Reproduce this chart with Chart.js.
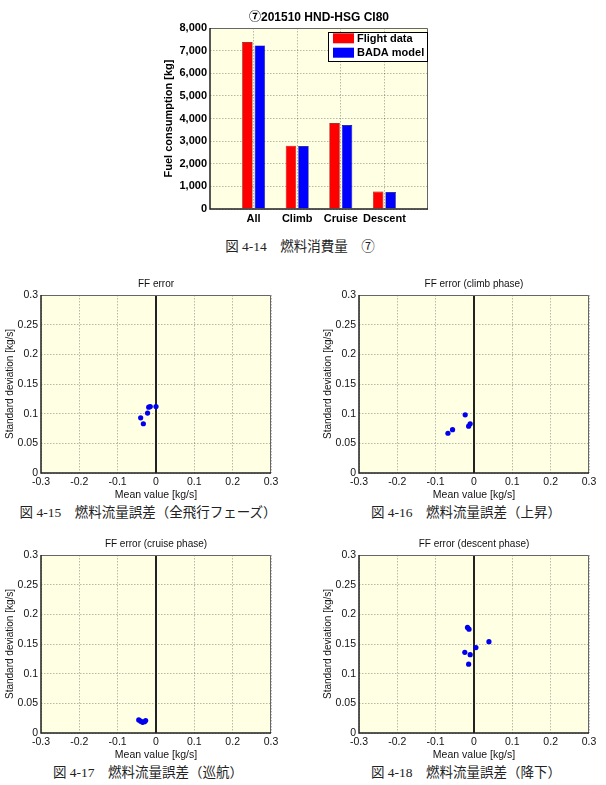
<!DOCTYPE html>
<html><head><meta charset="utf-8">
<script src="https://cdn.jsdelivr.net/npm/chart.js@4.4.0/dist/chart.umd.min.js"></script>
<style>
html,body{margin:0;padding:0;background:#fff;width:606px;height:785px;overflow:hidden;}
canvas{position:absolute;}
.cap{position:absolute;font-family:"Liberation Serif","Noto Sans CJK JP",serif;font-size:13.5px;line-height:16px;text-align:center;color:#222;white-space:nowrap;}
</style></head><body>
<canvas id="c0" width="300" height="235" style="left:150px;top:0px"></canvas>
<canvas id="c1" width="286" height="233" style="left:0px;top:270px"></canvas>
<canvas id="c2" width="286" height="233" style="left:318px;top:270px"></canvas>
<canvas id="c3" width="286" height="233" style="left:0px;top:530px"></canvas>
<canvas id="c4" width="286" height="233" style="left:318px;top:530px"></canvas>
<div class="cap" style="left:150px;top:239px;width:300px">図 4-14　燃料消費量　⑦</div>
<div class="cap" style="left:0px;top:505px;width:296px">図 4-15　燃料流量誤差（全飛行フェーズ）</div>
<div class="cap" style="left:318px;top:505px;width:296px">図 4-16　燃料流量誤差（上昇）</div>
<div class="cap" style="left:0px;top:765px;width:296px">図 4-17　燃料流量誤差（巡航）</div>
<div class="cap" style="left:318px;top:765px;width:296px">図 4-18　燃料流量誤差（降下）</div>
<script>
// ---- data ----
const categories = ['All', 'Climb', 'Cruise', 'Descent'];
const flightData = [7380, 2800, 3800, 770];
const badaModel = [7230, 2780, 3710, 750];
const barYTicks = [0, 1000, 2000, 3000, 4000, 5000, 6000, 7000, 8000];
const barYLabels = ['0', '1,000', '2,000', '3,000', '4,000', '5,000', '6,000', '7,000', '8,000'];

const allMean = [-0.040, -0.033, -0.022, -0.019, -0.015, 0.000];
const allStd = [0.093, 0.083, 0.101, 0.111, 0.112, 0.112];
const climbMean = [-0.068, -0.056, -0.023, -0.014, -0.010];
const climbStd = [0.067, 0.073, 0.098, 0.079, 0.083];
const cruiseMean = [-0.045, -0.040, -0.035, -0.030, -0.027];
const cruiseStd = [0.022, 0.020, 0.018, 0.019, 0.021];
const descentMean = [-0.017, -0.013, 0.039, 0.005, -0.024, -0.010, -0.014];
const descentStd = [0.178, 0.175, 0.154, 0.144, 0.136, 0.132, 0.116];

const sxTicks = [-0.3, -0.2, -0.1, 0, 0.1, 0.2, 0.3];
const sxLabels = ['-0.3', '-0.2', '-0.1', '0', '0.1', '0.2', '0.3'];
const syTicks = [0, 0.05, 0.1, 0.15, 0.2, 0.25, 0.3];
const syLabels = ['0', '0.05', '0.1', '0.15', '0.2', '0.25', '0.3'];
const zeroLineX = [0, 0];
const zeroLineY = [0, 0.3];

// ---- plugins ----
const frame = {
  id: 'frame',
  beforeDraw(chart) {
    const {ctx, chartArea: a} = chart;
    ctx.save();
    ctx.fillStyle = '#FFFFE4';
    ctx.fillRect(a.left, a.top, a.width, a.height);
    ctx.restore();
  },
  afterDatasetsDraw(chart) {
    const {ctx, chartArea: a} = chart;
    ctx.save();
    ctx.strokeStyle = '#666'; ctx.lineWidth = 1;
    ctx.beginPath();
    ctx.moveTo(a.left, a.top + 0.5); ctx.lineTo(a.right - 0.5, a.top + 0.5); ctx.lineTo(a.right - 0.5, a.bottom);
    ctx.stroke();
    ctx.strokeStyle = '#222'; ctx.lineWidth = 1.5;
    ctx.beginPath();
    ctx.moveTo(a.left, a.top); ctx.lineTo(a.left, a.bottom); ctx.lineTo(a.right, a.bottom);
    ctx.stroke();
    ctx.restore();
  }
};
const boxLegend = {
  id: 'boxLegend',
  afterDraw(chart, args, opts) {
    if (!opts || !opts.show) return;
    const {ctx, chartArea: a} = chart;
    const w = 99, h = 29, x = a.right - w - 1, y = a.top + 4;
    ctx.save();
    ctx.fillStyle = '#fff'; ctx.fillRect(x, y, w, h);
    ctx.strokeStyle = '#000'; ctx.lineWidth = 1; ctx.strokeRect(x + 0.5, y + 0.5, w, h);
    chart.data.datasets.forEach((ds, i) => {
      const yy = y + 1.3 + i * 14.4;
      ctx.fillStyle = ds.backgroundColor; ctx.fillRect(x + 5, yy, 21, 10);
      ctx.fillStyle = '#000'; ctx.font = 'bold 11px "Liberation Sans"'; ctx.textBaseline = 'middle'; ctx.textAlign = 'left';
      ctx.fillText(ds.label, x + 29, yy + 5.3);
    });
    ctx.restore();
  }
};

const gridOpts = {color: 'rgba(0,0,0,0.28)', lineWidth: 1, drawTicks: false, offset: false};
const borderOpts = {display: false, dash: [1.5, 1.5]};

// ---- bar chart ----
new Chart(document.getElementById('c0'), {
  type: 'bar',
  plugins: [frame, boxLegend],
  data: {
    datasets: [
      {label: 'Flight data', data: flightData.map((v, i) => ({x: i + 1, y: v})), backgroundColor: '#FF0000', borderColor: '#700', borderWidth: 0.6},
      {label: 'BADA model', data: badaModel.map((v, i) => ({x: i + 1, y: v})), backgroundColor: '#0000FF', borderColor: '#007', borderWidth: 0.6}
    ]
  },
  options: {
    responsive: false, animation: false, devicePixelRatio: 1,
    categoryPercentage: 0.573, barPercentage: 0.84,
    layout: {padding: {left: 0, right: 22, top: 0, bottom: 0}},
    plugins: {
      legend: {display: false}, tooltip: {enabled: false},
      boxLegend: {show: true},
      title: {display: true, text: '⑦201510 HND-HSG CI80', fullSize: false, color: '#000',
        font: {family: '"Liberation Sans","Noto Sans CJK JP"', size: 12, weight: 'bold', lineHeight: 1.2},
        padding: {top: 10, bottom: 3.6}}
    },
    scales: {
      x: {type: 'linear', min: 0, max: 5, offset: false, grid: gridOpts, border: borderOpts,
        afterBuildTicks: s => { s.ticks = categories.map((c, i) => ({value: i + 1})); },
        afterFit: s => { s.height = 26; },
        ticks: {autoSkip: false, maxRotation: 0, padding: 3, color: '#000',
          font: {family: '"Liberation Sans"', size: 11, weight: 'bold'},
          callback: (v, i) => categories[i]}
      },
      y: {min: 0, max: 8000, grid: gridOpts, border: borderOpts,
        afterBuildTicks: s => { s.ticks = barYTicks.map(v => ({value: v})); },
        afterFit: s => { s.width = 60; },
        ticks: {padding: 3, color: '#000', font: {family: '"Liberation Sans"', size: 11, weight: 'bold'},
          callback: (v, i) => barYLabels[i]},
        title: {display: true, text: 'Fuel consumption [kg]', color: '#000',
          font: {family: '"Liberation Sans"', size: 11, weight: 'bold', lineHeight: 1.2}, padding: {top: 12, bottom: 0}}
      }
    }
  }
});

// ---- scatter charts ----
function scatter(id, title, mean, std) {
  new Chart(document.getElementById(id), {
    type: 'scatter',
    plugins: [frame],
    data: {
      datasets: [
        {label: 'points', data: mean.map((m, i) => ({x: m, y: std[i]})), backgroundColor: '#0000EE', borderWidth: 0, pointRadius: 2.6, order: 0},
        {label: 'zero', data: zeroLineX.map((x, i) => ({x: x, y: zeroLineY[i]})), showLine: true, borderColor: '#222', borderWidth: 2, pointRadius: 0, order: 1}
      ]
    },
    options: {
      responsive: false, animation: false, devicePixelRatio: 1,
      layout: {padding: {left: 0, right: 15, top: 0, bottom: 0}},
      plugins: {
        legend: {display: false}, tooltip: {enabled: false},
        title: {display: true, text: title, fullSize: false, color: '#111',
          font: {family: '"Liberation Sans"', size: 10, weight: 'normal', lineHeight: 1.2},
          padding: {top: 8, bottom: 5}}
      },
      scales: {
        x: {type: 'linear', min: -0.3, max: 0.3, grid: gridOpts, border: borderOpts,
          afterBuildTicks: s => { s.ticks = sxTicks.map(v => ({value: v})); },
          afterFit: s => { s.height = 30; },
          ticks: {autoSkip: false, maxRotation: 0, padding: 3, color: '#111',
            font: {family: '"Liberation Sans"', size: 10.5}, callback: (v, i) => sxLabels[i]},
          title: {display: true, text: 'Mean value [kg/s]', color: '#111',
            font: {family: '"Liberation Sans"', size: 10.5, lineHeight: 1.2}, padding: {top: 0, bottom: 2}}
        },
        y: {type: 'linear', min: 0, max: 0.3, grid: gridOpts, border: borderOpts,
          afterBuildTicks: s => { s.ticks = syTicks.map(v => ({value: v})); },
          afterFit: s => { s.width = 41; },
          ticks: {autoSkip: false, padding: 3, color: '#111',
            font: {family: '"Liberation Sans"', size: 10.5}, callback: (v, i) => syLabels[i]},
          title: {display: true, text: 'Standard deviation [kg/s]', color: '#111',
            font: {family: '"Liberation Sans"', size: 10, lineHeight: 1.2}, padding: {top: 4, bottom: 0}}
        }
      }
    }
  });
}
scatter('c1', 'FF error', allMean, allStd);
scatter('c2', 'FF error (climb phase)', climbMean, climbStd);
scatter('c3', 'FF error (cruise phase)', cruiseMean, cruiseStd);
scatter('c4', 'FF error (descent phase)', descentMean, descentStd);
</script>
</body></html>
